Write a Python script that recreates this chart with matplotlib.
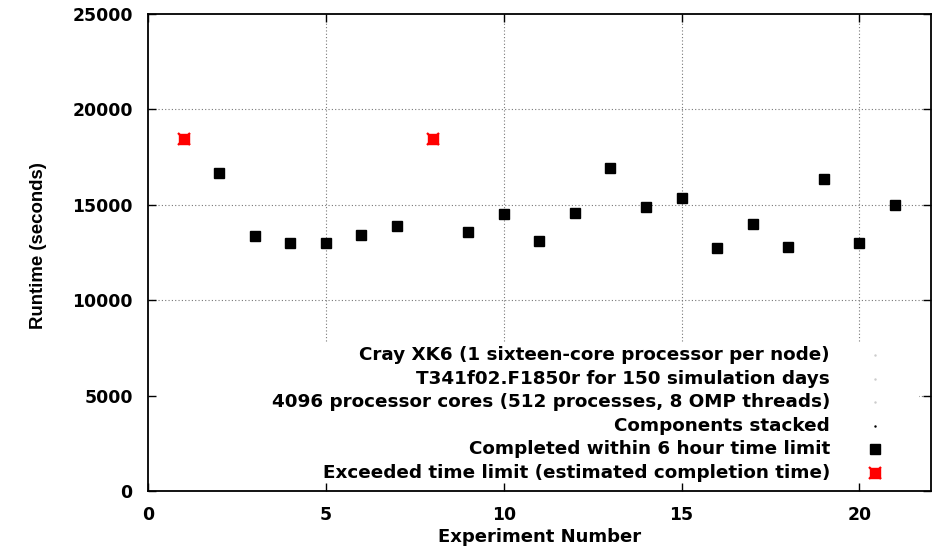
import matplotlib
matplotlib.use("Agg")
import matplotlib.pyplot as plt
from matplotlib.patches import Rectangle
import numpy as np

plt.rcParams['font.family'] = ['DejaVu Sans']
plt.rcParams['font.weight'] = 'bold'

# runs that finished inside the 6 hour limit
done_exp = [2, 3, 4, 5, 6, 7, 9, 10, 11, 12, 13, 14, 15, 16, 17, 18, 19, 20, 21]
done_time = [16650, 13370, 13000, 13000, 13420, 13890, 13580, 14520, 13100,
             14570, 16930, 14890, 15350, 12740, 14000, 12790, 16350, 13000, 14990]

# runs that hit the limit (estimated completion time)
over_exp = [1, 8]
over_time = [18410, 18410]

info_lines = [
    "Cray XK6 (1 sixteen-core processor per node)",
    "T341f02.F1850r for 150 simulation days",
    "4096 processor cores (512 processes, 8 OMP threads)",
    "Components stacked",
]
done_label = "Completed within 6 hour time limit"
over_label = "Exceeded time limit (estimated completion time)"

fig = plt.figure(figsize=(9.32, 5.52), dpi=100)
ax = fig.add_axes([0.1588, 0.1105, 0.8396, 0.865])

ax.set_xlim(0, 22)
ax.set_ylim(0, 25000)
ax.set_xticks([0, 5, 10, 15, 20])
ax.set_yticks(np.arange(0, 25001, 5000))

# dotted grid, kept under the key box
for xv in [5, 10, 15, 20]:
    ax.axvline(xv, color='#777777', lw=0.8, ls=(0, (1, 2)), zorder=0.5)
for yv in [5000, 10000, 15000, 20000]:
    ax.axhline(yv, color='#777777', lw=0.8, ls=(0, (1, 2)), zorder=0.5)

# white box behind the key
ax.add_patch(Rectangle((0.0, 0.0), 0.985, 0.312, transform=ax.transAxes,
                       facecolor='white', edgecolor='none', zorder=1))

ax.plot(done_exp, done_time, ls='none', marker='s', ms=7.6, color='black',
        mec='black', zorder=3)
ax.plot(over_exp, over_time, ls='none', marker='s', ms=7.0, color='red',
        mec='red', zorder=3)
ax.plot(over_exp, over_time, ls='none', marker='x', ms=8.5, mew=1.6,
        color='red', zorder=3)

# key
key_fs = 13.2
tx, mx = 0.8716, 0.929
y0, dy = 0.2848, 0.0494
for i, line in enumerate(info_lines):
    yy = y0 - i * dy
    ax.text(tx, yy, line, transform=ax.transAxes, ha='right', va='center',
            fontsize=key_fs, fontweight='bold', zorder=4)
    ax.plot([mx], [yy], transform=ax.transAxes, marker='.', ms=1.5,
            color='black' if i == 3 else '#cccccc', ls='none', zorder=4)
yy = y0 - 4 * dy
ax.text(tx, yy, done_label, transform=ax.transAxes, ha='right', va='center',
        fontsize=key_fs, fontweight='bold', zorder=4)
ax.plot([mx], [yy], transform=ax.transAxes, marker='s', ms=7.6, color='black',
        ls='none', zorder=4)
yy = y0 - 5 * dy
ax.text(tx, yy, over_label, transform=ax.transAxes, ha='right', va='center',
        fontsize=key_fs, fontweight='bold', zorder=4)
ax.plot([mx], [yy], transform=ax.transAxes, marker='s', ms=7.0, color='red',
        ls='none', zorder=4)
ax.plot([mx], [yy], transform=ax.transAxes, marker='x', ms=8.5, mew=1.6,
        color='red', ls='none', zorder=4)

ax.tick_params(direction='in', length=6, width=1, top=True, right=True,
               labelsize=12.4, pad=11)
for lab in ax.get_xticklabels() + ax.get_yticklabels():
    lab.set_fontweight('bold')
for sp in ax.spines.values():
    sp.set_linewidth(1.3)

ax.set_xlabel("Experiment Number", fontsize=13, fontweight='bold', labelpad=3)
ax.set_ylabel("Runtime (seconds)", fontsize=13.4, fontweight='bold',
              family='Liberation Sans')
ax.yaxis.set_label_coords(-0.129, 0.514)

fig.savefig("out.png", dpi=100)
